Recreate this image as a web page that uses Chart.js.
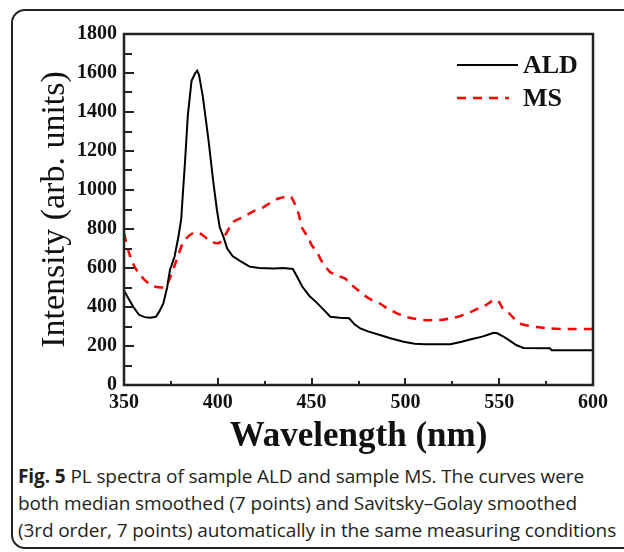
<!DOCTYPE html>
<html>
<head>
<meta charset="utf-8">
<script src="https://cdn.jsdelivr.net/npm/chart.js@4.4.1/dist/chart.umd.min.js"></script>
<style>
  body { margin: 0; background: #fff; }
  .frame {
    position: absolute; left: 11px; top: 9px; width: 700px; height: 540px;
    border: 2px solid #222; border-radius: 14px; box-sizing: border-box;
  }
  #plot { position: absolute; left: 0; top: 0; }
  .caption {
    position: absolute; left: 18px; top: 463px; width: 606px;
    font-family: "Open Sans", sans-serif; font-size: 19px; line-height: 27px;
    color: #231f20; white-space: nowrap; letter-spacing: -0.1px;
  }
</style>
</head>
<body>
<div class="frame"></div>
<canvas id="plot" width="624" height="460"></canvas>
<div class="caption"><b>Fig. 5</b> PL spectra of sample ALD and sample MS. The curves were<br>both median smoothed (7 points) and Savitsky–Golay smoothed<br>(3rd order, 7 points) automatically in the same measuring conditions</div>
<script>
// ALD spectrum (wavelength nm, intensity)
const aldWl = [350, 352, 355, 358, 361, 364, 367, 369, 371, 373, 374.5, 377, 379, 380.5, 381.5, 382.5, 384, 386, 388, 389, 390, 392, 395, 397.5, 399.5, 401, 403, 405, 408, 412, 417, 422, 430, 435, 440, 442, 445, 449, 453, 457, 460, 465, 470, 473, 476, 480, 486, 492, 499, 505, 510, 524, 530, 535, 541, 544, 547, 549, 552, 556, 559, 563, 577, 578, 600];
const aldInt = [485, 450, 400, 360, 348, 345, 350, 380, 420, 500, 590, 660, 760, 850, 1000, 1140, 1380, 1560, 1600, 1612, 1590, 1480, 1260, 1050, 900, 810, 760, 700, 660, 635, 607, 600, 598, 600, 595, 560, 505, 455, 420, 380, 350, 345, 342, 310, 290, 275, 258, 240, 222, 212, 209, 209, 222, 235, 248, 258, 268, 265, 250, 225, 205, 190, 188, 178, 178];

// MS spectrum
const msWl = [350, 352, 354, 356, 359, 362, 366, 372, 375, 378, 381, 384, 388, 391, 395, 398, 401, 404, 408, 412, 416, 420, 424, 428, 432, 436, 439, 441, 443, 445, 448, 450, 453, 455, 458, 460, 464, 468, 471, 475, 478, 482, 486, 490, 495, 500, 505, 510, 515, 520, 524, 528, 531, 535, 539, 543, 546, 548, 550, 552, 555, 558, 561, 565, 570, 577, 585, 600];
const msInt = [780, 700, 640, 600, 560, 530, 505, 502, 560, 640, 720, 760, 785, 775, 745, 730, 730, 770, 835, 855, 875, 895, 910, 935, 955, 965, 965, 930, 880, 805, 760, 718, 680, 641, 600, 578, 560, 545, 515, 485, 460, 436, 420, 395, 370, 350, 340, 333, 333, 335, 342, 350, 360, 375, 393, 410, 430, 440, 425, 390, 370, 340, 315, 305, 298, 290, 287, 287];

const xTicks = [350, 400, 450, 500, 550, 600];
const yTicks = [0, 200, 400, 600, 800, 1000, 1200, 1400, 1600, 1800];

const serif = "'Liberation Serif', 'Times New Roman', serif";

const toPoints = (xs, ys) => xs.map((x, i) => ({ x: x, y: ys[i] }));

// frame, inward tick marks and legend
const decor = {
  id: "decor",
  afterDatasetsDraw(chart) {
    const c = chart.ctx;
    const a = chart.chartArea;
    const xs = chart.scales.x, ys = chart.scales.y;
    c.save();
    c.strokeStyle = "#222";
    c.lineWidth = 2.5;
    c.strokeRect(a.left, a.top, a.right - a.left, a.bottom - a.top);
    c.lineWidth = 2;
    c.beginPath();
    for (let v = 0; v <= 1800; v += 100) {
      const py = Math.round(ys.getPixelForValue(v));
      const len = v % 200 === 0 ? 10 : 8;
      c.moveTo(a.left, py);
      c.lineTo(a.left + len, py);
    }
    for (let v = 350; v <= 600; v += 25) {
      const px = Math.round(xs.getPixelForValue(v));
      const len = v % 50 === 0 ? 7 : 4;
      c.moveTo(px, a.bottom);
      c.lineTo(px, a.bottom - len);
    }
    c.stroke();

    // legend
    const items = [
      { y: 65, len: 61 },
      { y: 98, len: 52 },
    ];
    chart.data.datasets.forEach((ds, i) => {
      const it = items[i];
      c.beginPath();
      c.strokeStyle = ds.borderColor;
      c.lineWidth = ds.borderWidth;
      c.setLineDash(ds.borderDash || []);
      c.moveTo(457, it.y);
      c.lineTo(457 + it.len, it.y);
      c.stroke();
      c.setLineDash([]);
      c.fillStyle = "#111";
      c.font = "bold 26px " + serif;
      c.textBaseline = "middle";
      c.fillText(ds.label, 523, it.y + 1);
    });
    c.restore();
  },
};

const ctx = document.getElementById("plot").getContext("2d");
new Chart(ctx, {
  type: "line",
  data: {
    datasets: [
      {
        label: "ALD",
        data: toPoints(aldWl, aldInt),
        borderColor: "#000000",
        borderWidth: 2,
        pointRadius: 0,
        tension: 0,
        fill: false,
      },
      {
        label: "MS",
        data: toPoints(msWl, msInt),
        borderColor: "#ff0000",
        borderWidth: 2.5,
        borderDash: [9, 7],
        pointRadius: 0,
        tension: 0.2,
        fill: false,
      },
    ],
  },
  options: {
    responsive: false,
    animation: false,
    layout: { padding: { top: 34, right: 31, left: 0, bottom: 0 } },
    plugins: { legend: { display: false }, tooltip: { enabled: false } },
    scales: {
      x: {
        type: "linear",
        min: 350,
        max: 600,
        afterBuildTicks: (s) => { s.ticks = xTicks.map((v) => ({ value: v })); },
        afterFit: (s) => { s.height = 75; },
        grid: { display: false, drawTicks: false },
        border: { display: false },
        ticks: {
          padding: 6,
          color: "#111",
          font: { family: serif, size: 20, weight: "bold" },
          maxRotation: 0,
          callback: (v) => String(v),
        },
        title: {
          display: true,
          text: "Wavelength (nm)",
          color: "#111",
          font: { family: serif, size: 35, weight: "bold" },
          padding: { top: 0, bottom: 2 },
        },
      },
      y: {
        min: 0,
        max: 1800,
        afterBuildTicks: (s) => { s.ticks = yTicks.map((v) => ({ value: v })); },
        afterFit: (s) => { s.width = 124; },
        grid: { display: false, drawTicks: false },
        border: { display: false },
        ticks: {
          padding: 7,
          color: "#111",
          font: { family: serif, size: 20, weight: "bold" },
          callback: (v) => String(v),
        },
        title: {
          display: true,
          text: "Intensity (arb. units)",
          color: "#111",
          font: { family: serif, size: 34 },
          padding: { top: 35, bottom: 0 },
        },
      },
    },
  },
  plugins: [decor],
});
</script>
</body>
</html>
